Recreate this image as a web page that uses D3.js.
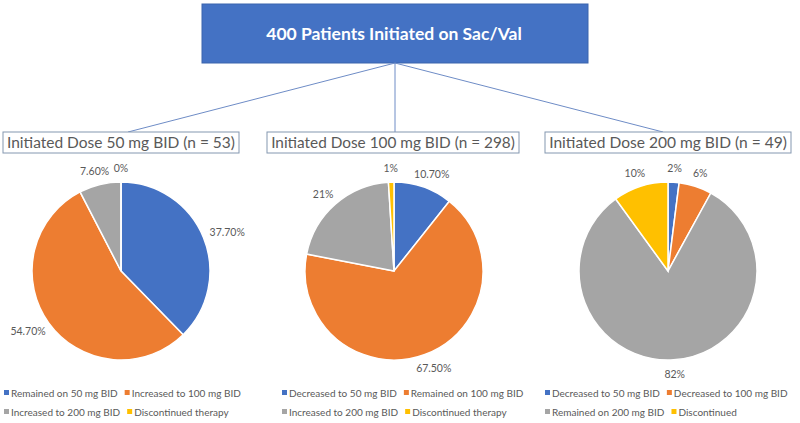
<!DOCTYPE html>
<html>
<head>
<meta charset="utf-8">
<script src="https://cdn.jsdelivr.net/npm/d3@7"></script>
<style>
  body { margin: 0; background: #fff; }
  svg { display: block; font-family: Lato, "Open Sans", sans-serif; }
</style>
</head>
<body>
<svg id="chart" width="800" height="423"></svg>
<script>
// Chart data
const mainTitle = "400 Patients Initiated on Sac/Val";
const panelTitles = [
    "Initiated Dose 50 mg BID (n = 53)",
    "Initiated Dose 100 mg BID (n = 298)",
    "Initiated Dose 200 mg BID (n = 49)"
];
const sliceColors = ["#4472C4", "#ED7D31", "#A5A5A5", "#FFC000"];

const legend1 = ["Remained on 50 mg BID", "Increased to 100 mg BID", "Increased to 200 mg BID", "Discontinued therapy"];
const legend2 = ["Decreased to 50 mg BID", "Remained on 100 mg BID", "Increased to 200 mg BID", "Discontinued therapy"];
const legend3 = ["Decreased to 50 mg BID", "Decreased to 100 mg BID", "Remained on 200 mg BID", "Discontinued"];

const values1 = [37.7, 54.7, 7.6, 0];
const values2 = [10.7, 67.5, 21, 1];
const values3 = [2, 6, 82, 10];

const labels1 = ["37.70%", "54.70%", "7.60%", "0%"];
const labels2 = ["10.70%", "67.50%", "21%", "1%"];
const labels3 = ["2%", "6%", "82%", "10%"];

// Layout
const panels = [
    { cx: 121, boxX: 3, boxW: 236, lineX: 128, legX: 4, values: values1, labels: labels1, legend: legend1 },
    { cx: 394, boxX: 267, boxW: 252, lineX: 395, legX: 282, values: values2, labels: labels2, legend: legend2 },
    { cx: 668, boxX: 545, boxW: 246, lineX: 663, legX: 545, values: values3, labels: labels3, legend: legend3 }
];
const pieY = 271, radius = 89;
const boxY = 132, boxH = 21;
const textColor = "#595959";

const svg = d3.select('#chart');

// Top box
svg.append('rect')
    .attr('x', 202).attr('y', 4)
    .attr('width', 386).attr('height', 59)
    .attr('fill', '#4472C4')
    .attr('stroke', '#3B64AD');

svg.append('text')
    .attr('x', 394).attr('y', 40)
    .attr('text-anchor', 'middle')
    .attr('fill', '#fff')
    .attr('font-weight', 'bold')
    .attr('font-size', 17.5)
    .text(mainTitle);

const pie = d3.pie().sort(null).value(d => d);
const arc = d3.arc().innerRadius(0).outerRadius(radius);

panels.forEach((p, i) => {
    // connector
    svg.append('line')
        .attr('x1', 395).attr('y1', 63)
        .attr('x2', p.lineX).attr('y2', boxY)
        .attr('stroke', '#6E8CC6')
        .attr('stroke-width', 1);

    // panel title box
    svg.append('rect')
        .attr('x', p.boxX).attr('y', boxY)
        .attr('width', p.boxW).attr('height', boxH)
        .attr('fill', '#fff')
        .attr('stroke', '#8497B0');

    const title = svg.append('text')
        .attr('x', p.boxX + p.boxW / 2).attr('y', boxY + 16)
        .attr('text-anchor', 'middle')
        .attr('fill', textColor)
        .attr('font-size', 16)
        .text(panelTitles[i]);
    // shrink to fit inside the box
    const tw = title.node().getComputedTextLength();
    title.attr('font-size', 16 * (p.boxW - 8) / tw);

    const g = svg.append('g').attr('transform', `translate(${p.cx},${pieY})`);
    const arcs = pie(p.values);

    g.selectAll('path')
        .data(arcs)
        .enter()
        .append('path')
        .attr('d', arc)
        .attr('fill', (d, j) => sliceColors[j])
        .attr('stroke', '#fff')
        .attr('stroke-width', 1.5);

    // outside-end labels
    g.selectAll('text.lbl')
        .data(arcs)
        .enter()
        .append('text')
        .attr('class', 'lbl')
        .attr('font-size', 10.5)
        .attr('fill', textColor)
        .attr('text-anchor', 'middle')
        .attr('dominant-baseline', 'central')
        .text((d, j) => p.labels[j])
        .each(function (d) {
            const a = (d.startAngle + d.endAngle) / 2;
            const w = this.getComputedTextLength();
            const h = 12;
            const r = radius + 8;
            const x = Math.sin(a) * r + Math.sin(a) * w / 2;
            const y = -Math.cos(a) * r - Math.cos(a) * h / 2;
            d3.select(this).attr('x', x).attr('y', y);
        });

    // legend, two rows of two
    const leg = svg.append('g').attr('transform', `translate(${p.legX},0)`);
    [0, 1].forEach(row => {
        let x = 0;
        const y = 393 + row * 19;
        [0, 1].forEach(col => {
            const k = row * 2 + col;
            leg.append('rect')
                .attr('x', x).attr('y', y - 3)
                .attr('width', 5).attr('height', 5)
                .attr('fill', sliceColors[k]);
            const t = leg.append('text')
                .attr('x', x + 7).attr('y', y)
                .attr('dominant-baseline', 'central')
                .attr('font-size', 10)
                .attr('fill', textColor)
                .text(p.legend[k]);
            x += 7 + t.node().getComputedTextLength() + 7;
        });
    });
});
</script>
</body>
</html>
